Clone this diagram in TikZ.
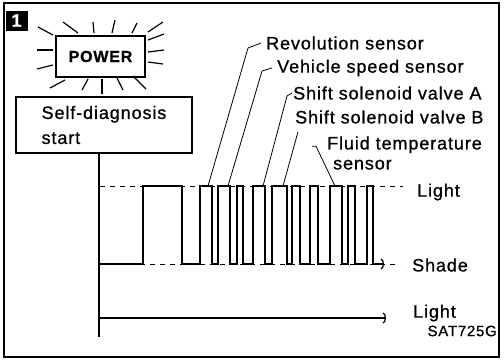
\documentclass[tikz,border=0pt]{standalone}
\usepackage{fontspec}
\setmainfont{Liberation Sans}[LetterSpace=5, FakeBold=0.8]
\usetikzlibrary{arrows.meta, positioning}
\newcommand{\lblfont}{\fontsize{18}{21}\selectfont}
\begin{document}
\begin{tikzpicture}[x=1pt, y=-1pt,
    every node/.style={font=\lblfont, inner sep=0pt},
    boxframe/.style={draw, line width=1.5pt, inner sep=0pt},
    ray/.style={line width=1.2pt},
    signal/.style={line width=1.5pt, line join=miter},
    level/.style={dash pattern=on 5pt off 5pt, line width=0.8pt},
    leader/.style={line width=0.8pt},
    axis/.style={line width=1.4pt},
    barb/.style={-{Arc Barb[width=11pt, length=3pt, line width=1.2pt]}}
  ]
  \useasboundingbox (0,0) rectangle (504,360);
  % frame and badge
  \draw[line width=1.6pt] (4,3) rectangle (499,357);
  \node[fill=black, text=white, minimum width=22pt, minimum height=20pt,
        font=\fontsize{18}{20}\selectfont\bfseries] (badge) at (16.5,20.5) {1};

  % Power lamp with rays
  \node[boxframe, minimum width=89pt, minimum height=41pt,
        font=\fontsize{16}{18}\selectfont\bfseries] (power) at (100.5,56.5) {POWER};
  \foreach \xa/\ya/\xb/\yb in {38/27/53/35, 63/22/78/33, 93/22/94/33, 115/20/112/33,
      137/23/132/33, 163/22/148/32, 148/40/164/34, 148/52/164/50, 148/62/163/64,
      133/76/146/89, 117/78/123/90, 102/79/102/94, 88/79/82/90, 65/80/50/88,
      37/50/53/50, 37/69/53/65}
    \draw[ray] (\xa,\ya) -- (\xb,\yb);

  % Self-diagnosis box
  \node[boxframe, minimum width=176pt, minimum height=56pt, align=left,
        font=\fontsize{18}{25}\selectfont] (diag) at (104,125) {Self-diagnosis\\start};

  % levels
  \coordinate (waveStart) at (99,264);
  \coordinate (axisEnd) at (99,337);
  \draw[level] (100,186) -- (403,186);
  \draw[level] (100,264) -- (400,264);
  \draw[axis] (diag.south -| axisEnd) -- (axisEnd);

  % pulse train
  \draw[signal, barb] (waveStart)
    \foreach \a/\b in {143/182, 200/212, 218/230, 237/243, 253/265, 272/287,
                       292/300, 310/318, 330/342, 348/355, 367/373}
      { -- (\a,264) -- (\a,186) -- (\b,186) -- (\b,264) } -- (384,264);

  % pulse tops for leaders
  \coordinate (tRev) at (208,186);
  \coordinate (tVeh) at (228,186);
  \coordinate (tSolA) at (263,186);
  \coordinate (tSolB) at (283,186);
  \coordinate (tFluid) at (335,186);

  % labels
  \node[anchor=west] (rev) at (266,43) {Revolution sensor};
  \node[anchor=west] (veh) at (277,68) {Vehicle speed sensor};
  \node[anchor=west] (solA) at (293,93) {Shift solenoid valve A};
  \node[anchor=west] (solB) at (295,117) {Shift solenoid valve B};
  \node[anchor=west, align=left, font=\fontsize{18}{20}\selectfont] (fluid) at (327,153)
    {Fluid temperature\\\hspace*{6pt}sensor};
  \node[anchor=west] (lightHi) at (417,192) {Light};
  \node[anchor=west] (shade) at (412,265) {Shade};
  \node[anchor=west] (lightLo) at (413,313) {Light};
  \node[anchor=east, font=\fontsize{15}{17}\selectfont] (code) at (497,331) {SAT725G};

  % leaders
  \draw[leader] ([xshift=-5pt]rev.west) -- ++(-13,5) -- (tRev);
  \draw[leader] ([xshift=-5pt]veh.west) -- ++(-10,3) -- (tVeh);
  \draw[leader] ([xshift=-1pt]solA.west) -- ++(-5,3) -- (tSolA);
  \draw[leader] ([xshift=3pt, yshift=-8pt]solB.south west) -- (tSolB);
  \draw[leader] ([xshift=-15pt, yshift=-10pt]fluid.north west) -- ++(4,0) -- (tFluid);

  % bottom light line
  \coordinate (lowStart) at (99,318);
  \coordinate (lowEnd) at (386,318);
  \draw[axis, barb] (lowStart) -- (lowEnd);
\end{tikzpicture}
\end{document}
